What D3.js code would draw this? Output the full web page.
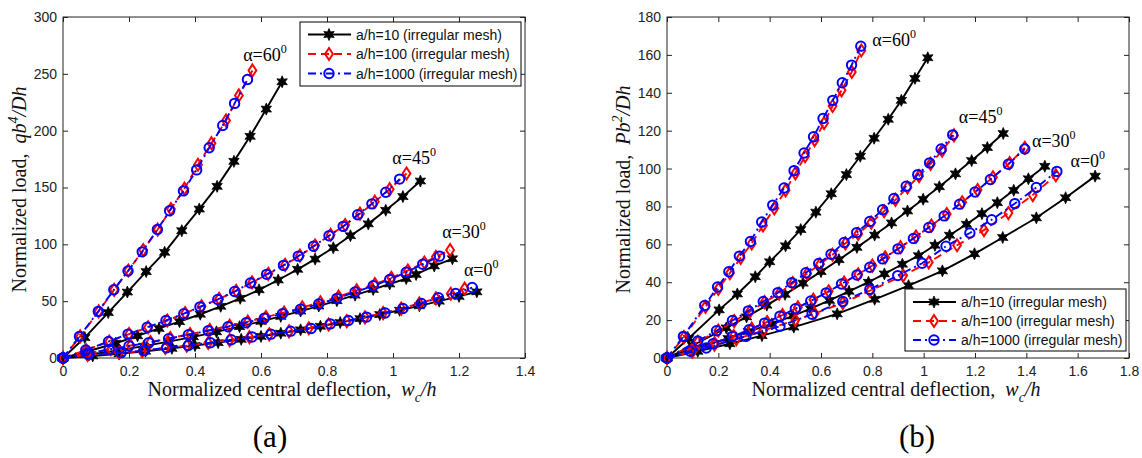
<!DOCTYPE html>
<html><head><meta charset="utf-8">
<script src="https://cdn.jsdelivr.net/npm/d3@7"></script>
<style>body{margin:0;background:#fff}</style>
</head><body><svg id="c" width="1142" height="458"></svg>
<script>
// ---------------- DATA: panel (a) ----------------
const xTicksA = [0, 0.2, 0.4, 0.6, 0.8, 1, 1.2, 1.4];
const yTicksA = [0, 50, 100, 150, 200, 250, 300];
// alpha = 60
const a60_10_x = [0,0.066,0.137,0.195,0.252,0.308,0.36,0.413,0.467,0.518,0.567,0.616,0.664];
const a60_10_y = [0,18,40,58,76,93,112,131,151,173,195,219,243];
const a60_100_x = [0,0.052,0.108,0.155,0.198,0.243,0.287,0.327,0.368,0.409,0.45,0.494,0.533,0.574];
const a60_100_y = [0,19,41,60,77,95,113,131,149,170,189,209,231,253];
const a60_1000_x = [0,0.05,0.107,0.154,0.197,0.24,0.286,0.323,0.365,0.405,0.443,0.484,0.52,0.559];
const a60_1000_y = [0,19,41,60,76.5,93.4,113,129.5,147,165.5,185,204.5,224,245];
// alpha = 45
const a45_10_x = [0,0.07,0.16,0.226,0.291,0.353,0.416,0.478,0.537,0.594,0.652,0.711,0.764,0.819,0.871,0.925,0.978,1.03,1.083];
const a45_10_y = [0,5.5,13,19.5,26,32,38.5,45.5,52.5,60,68.6,78,87,97,107.6,118,130,142,155.7];
const a45_100_x = [0,0.07,0.14,0.2,0.258,0.316,0.37,0.42,0.473,0.525,0.573,0.622,0.673,0.718,0.764,0.811,0.855,0.9,0.945,0.99,1.041];
const a45_100_y = [0,7,14.5,21,27,33,39.5,45.5,52,59,66.5,74,82,90,99,108.5,117,127,137.5,148.5,162.3];
const a45_1000_x = [0,0.069,0.138,0.197,0.255,0.312,0.366,0.415,0.469,0.52,0.568,0.617,0.668,0.713,0.759,0.806,0.849,0.893,0.936,0.978,1.02];
const a45_1000_y = [0,7,14.5,21,27,33,39,45,51.5,58.5,66,73.6,81.5,89.6,98.3,107.6,115.8,126,135.6,145.8,157.4];
// alpha = 30
const a30_10_x = [0,0.08,0.165,0.245,0.32,0.395,0.465,0.535,0.6,0.66,0.72,0.775,0.83,0.885,0.94,0.99,1.04,1.07,1.125,1.18];
const a30_10_y = [0,3,6.6,10.4,14.4,18.6,23,27.6,32.2,36.6,41.3,45.7,50.4,55.3,60.3,65.1,69.9,73.5,81,87.3];
const a30_100_x = [0,0.072,0.145,0.205,0.265,0.325,0.385,0.445,0.505,0.56,0.615,0.67,0.725,0.78,0.835,0.89,0.945,0.995,1.045,1.095,1.13,1.173];
const a30_100_y = [0,4,7.8,11,14,17.5,21,24.7,28.3,32,36,40,44.5,49,54,59.5,65,70.5,77,84,89,95];
const a30_1000_x = [0,0.075,0.14,0.2,0.26,0.32,0.38,0.44,0.5,0.555,0.61,0.665,0.72,0.775,0.83,0.885,0.94,0.99,1.04,1.09,1.141];
const a30_1000_y = [0,4,7.5,10.5,13.5,17,20.5,24,27.5,31,35,39,43,47.5,52.5,58,63.5,69,75.5,82.5,89.6];
// alpha = 0
const a0_10_x = [0,0.09,0.17,0.25,0.33,0.4,0.47,0.54,0.6,0.66,0.72,0.78,0.84,0.9,0.96,1.02,1.08,1.14,1.2,1.254];
const a0_10_y = [0,1.8,3.7,6,8.5,10.9,13.5,16.4,19,21.8,24.8,27.9,31.2,34.6,38.2,42,45.9,50,54.2,58.2];
const a0_100_x = [0,0.075,0.17,0.24,0.31,0.375,0.44,0.505,0.565,0.625,0.685,0.745,0.805,0.86,0.915,0.97,1.025,1.08,1.13,1.175,1.217];
const a0_100_y = [0,2.8,4.6,6,8.8,10.8,13.2,15.8,18.3,20.8,23.4,26.2,29.5,32.5,35.8,39.5,43.5,48,52.5,56.5,61];
const a0_1000_x = [0,0.077,0.176,0.246,0.314,0.38,0.447,0.51,0.573,0.63,0.69,0.752,0.81,0.865,0.92,0.976,1.03,1.086,1.138,1.19,1.24];
const a0_1000_y = [0,3,4.7,6.5,9,11,13.4,16,18.5,21,23.6,26,30,33,36,39.6,43.6,48,53,56.7,62];

// ---------------- DATA: panel (b) ----------------
const xTicksB = [0, 0.2, 0.4, 0.6, 0.8, 1, 1.2, 1.4, 1.6, 1.8];
const yTicksB = [0, 20, 40, 60, 80, 100, 120, 140, 160, 180];
const b60_10_x = [0,0.084,0.203,0.274,0.344,0.4,0.462,0.521,0.58,0.64,0.699,0.753,0.807,0.862,0.913,0.966,1.016];
const b60_10_y = [0,10.3,25.4,33.8,42.9,50.8,59.2,67.8,77,86.7,96.8,106.5,116,126,136,147.6,158.5];
const b60_100_x = [0,0.066,0.15,0.2,0.245,0.287,0.33,0.374,0.418,0.462,0.5,0.538,0.575,0.612,0.645,0.68,0.72,0.757];
const b60_100_y = [0,11,27,36.5,44.8,52.8,60.5,70,79,88.5,97.5,106.5,115,124,133,141.3,151,162.3];
const b60_1000_x = [0,0.064,0.147,0.197,0.241,0.282,0.325,0.369,0.412,0.456,0.495,0.534,0.571,0.608,0.646,0.683,0.719,0.755];
const b60_1000_y = [0,11.4,27.7,37.5,45.5,53.8,61.5,71.8,80.7,89.7,98.9,108.2,116.8,126.4,136,145.3,154.6,164.6];
const b45_10_x = [0,0.1,0.231,0.31,0.389,0.46,0.53,0.6,0.67,0.74,0.809,0.875,0.937,0.998,1.061,1.124,1.187,1.248,1.31];
const b45_10_y = [0,6.6,15.9,21.7,27.9,33.6,39.5,45.6,51.9,58.4,64.9,71.3,77.6,83.8,90.4,97.2,104.2,111.1,118.5];
const b45_100_x = [0,0.12,0.2,0.262,0.323,0.38,0.437,0.49,0.546,0.596,0.645,0.695,0.745,0.796,0.846,0.89,0.937,0.982,1.027,1.072,1.118];
const b45_100_y = [0,8.5,14.5,19.5,24.5,29.5,34,39.5,44.5,49.5,54.5,60.5,65.5,71.5,77.5,83.5,90,96,102.5,109.5,117.5];
const b45_1000_x = [0,0.12,0.193,0.255,0.317,0.375,0.432,0.486,0.541,0.591,0.639,0.69,0.739,0.79,0.84,0.884,0.932,0.977,1.023,1.068,1.113];
const b45_1000_y = [0,9,14.4,19.8,24.9,29.8,34.5,39.7,45,49.9,54.8,61,66.2,72.1,78.3,84.2,90.7,96.8,103,110.3,117.8];
const b30_10_x = [0,0.103,0.238,0.317,0.409,0.491,0.559,0.633,0.709,0.785,0.847,0.917,0.98,1.044,1.101,1.167,1.227,1.287,1.351,1.408,1.472];
const b30_10_y = [0,5,10.3,14,18,22.2,26,30.4,35.2,40,44.4,49.5,54,59.5,64.8,70.6,76.2,82,88.5,94.6,101.2];
const b30_100_x = [0,0.095,0.185,0.26,0.33,0.39,0.45,0.51,0.57,0.63,0.69,0.745,0.8,0.85,0.91,0.97,1.03,1.09,1.15,1.21,1.27,1.335,1.394];
const b30_100_y = [0,3.8,7.9,11.6,15.5,19,22.7,26.7,30.8,35.2,39.8,44.2,48.8,53.1,58.5,64.1,69.9,76,82.2,88.7,95.4,102.9,111];
const b30_1000_x = [0,0.09,0.18,0.255,0.32,0.38,0.44,0.5,0.56,0.62,0.68,0.74,0.79,0.84,0.9,0.96,1.02,1.08,1.14,1.2,1.26,1.33,1.394];
const b30_1000_y = [0,3.6,7.6,11.4,14.9,18.4,22.1,26,30.1,34.4,39.1,43.8,47.9,52.3,57.6,63.1,68.9,75,81.2,87.6,94.2,102.3,110.3];
const b0_10_x = [0,0.12,0.245,0.37,0.494,0.663,0.809,0.941,1.073,1.198,1.308,1.439,1.553,1.668];
const b0_10_y = [0,3.5,7.5,11.8,16.3,23.3,31,38.2,46,55,63.6,74,84.6,96];
const b0_100_x = [0,0.1,0.185,0.27,0.375,0.5,0.575,0.685,0.79,0.92,1.02,1.13,1.235,1.33,1.425,1.515];
const b0_100_y = [0,3.5,7,10,14.5,20,23.5,29,35.5,43.5,50.5,59.5,67.5,76.5,86,96.5];
const b0_1000_x = [0,0.153,0.307,0.44,0.565,0.685,0.79,0.899,0.994,1.087,1.18,1.265,1.355,1.439,1.519];
const b0_1000_y = [0,5.3,11.4,16.8,23.1,29.8,36.2,43.5,50,59,66,73,81.5,90,98.5];

// legend & annotation text
const legendLabels = ["a/h=10 (irregular mesh)", "a/h=100 (irregular mesh)", "a/h=1000 (irregular mesh)"];
const annA = [["60",0.546,261],["45",0.998,171],["30",1.149,106],["0",1.215,72]];
const annB = [["60",0.80,164.6],["45",1.137,123.8],["30",1.422,111.5],["0",1.572,101]];

// ---------------- DRAWING ----------------
const svg = d3.select("#c");
const zip = (xs, ys) => xs.map((x, i) => [x, ys[i]]);

const styles = [
  {color:"#000", dash:null, marker:"star"},
  {color:"#ff0000", dash:"8,5", marker:"diamond"},
  {color:"#0000ff", dash:"8,4,2,4", marker:"circle"}
];

function starPath(r){
  const p=[];
  for(let i=0;i<12;i++){
    const a=-Math.PI/2+i*Math.PI/6, rr=(i%2)?r*0.5:r;
    p.push([ (rr*Math.cos(a)).toFixed(2), (rr*Math.sin(a)).toFixed(2) ]);
  }
  return "M"+p.join("L")+"Z";
}
const STAR = starPath(6);
const DIAM = "M0,-6L3.9,0L0,6L-3.9,0Z";

function drawMarker(g, kind, x, y, color){
  if(kind==="star") g.append("path").attr("d",STAR).attr("transform",`translate(${x},${y})`).attr("fill","#000").attr("stroke","#000").attr("stroke-width",0.8);
  else if(kind==="diamond") g.append("path").attr("d",DIAM).attr("transform",`translate(${x},${y})`).attr("fill","none").attr("stroke",color).attr("stroke-width",2);
  else g.append("circle").attr("cx",x).attr("cy",y).attr("r",4.7).attr("fill","none").attr("stroke",color).attr("stroke-width",2);
}

function panel(opt){
  const {x0,x1,y0,y1,xMax,yMax,xTicks,yTicks,groups,ann,legend,ylab,ysup,tag,tagX} = opt;
  const xs = d3.scaleLinear().domain([0,xMax]).range([x0,x1]);
  const ys = d3.scaleLinear().domain([0,yMax]).range([y1,y0]);
  const g = svg.append("g");
  g.append("rect").attr("x",x0).attr("y",y0).attr("width",x1-x0).attr("height",y1-y0).attr("fill","none").attr("stroke","#222").attr("stroke-width",1);
  const fmt = d => String(d);
  const ax = g.append("g").attr("transform",`translate(0,${y1})`).call(d3.axisBottom(xs).tickValues(xTicks).tickFormat(fmt).tickSizeInner(-5).tickSizeOuter(0).tickPadding(10));
  const axT = g.append("g").attr("transform",`translate(0,${y0})`).call(d3.axisTop(xs).tickValues(xTicks).tickFormat("").tickSizeInner(-5).tickSizeOuter(0));
  const ay = g.append("g").attr("transform",`translate(${x0},0)`).call(d3.axisLeft(ys).tickValues(yTicks).tickFormat(fmt).tickSizeInner(-5).tickSizeOuter(0).tickPadding(10));
  const ayR = g.append("g").attr("transform",`translate(${x1},0)`).call(d3.axisRight(ys).tickValues(yTicks).tickFormat("").tickSizeInner(-5).tickSizeOuter(0));
  [ax,axT,ay,ayR].forEach(a=>{ a.select(".domain").remove(); a.selectAll("line").attr("stroke","#222"); a.selectAll("text").attr("font-family","'Liberation Sans', Arial, sans-serif").attr("font-size",14).attr("fill","#222"); });
  ax.selectAll("text").attr("dy","0.71em").attr("y",8);
  ay.selectAll("text").attr("x",-6);

  const line = d3.line().x(d=>xs(d[0])).y(d=>ys(d[1]));
  for(let s=0;s<3;s++){
    const st = styles[s];
    groups.forEach(gr=>{
      const pts = gr[s];
      g.append("path").attr("d",line(pts)).attr("fill","none").attr("stroke",st.color).attr("stroke-width",1.9).attr("stroke-dasharray",st.dash);
      pts.forEach(p=>drawMarker(g, st.marker, xs(p[0]), ys(p[1]), st.color));
    });
  }
  ann.forEach(([deg,ax_,ay_])=>{
    const t = g.append("text").attr("x",xs(ax_)).attr("y",ys(ay_)).attr("font-family","'Liberation Serif','Times New Roman',serif").attr("font-size",18).attr("fill","#000");
    t.append("tspan").text("α="+deg);
    t.append("tspan").attr("dy",-8).attr("font-size",12).text("0");
  });
  const L = legend;
  const lg = g.append("g");
  lg.append("rect").attr("x",L.x).attr("y",L.y).attr("width",L.w).attr("height",L.h).attr("fill","#fff").attr("stroke","#000").attr("stroke-width",1);
  legendLabels.forEach((lab,i)=>{
    const yy = L.y + L.r0 + i*L.dr;
    const st = styles[i];
    lg.append("line").attr("x1",L.x+8).attr("x2",L.x+51).attr("y1",yy).attr("y2",yy).attr("stroke",st.color).attr("stroke-width",1.9).attr("stroke-dasharray",st.dash);
    drawMarker(lg, st.marker, L.x+29, yy, st.color);
    lg.append("text").attr("x",L.x+56).attr("y",yy).attr("dy","0.36em").attr("font-family","'Liberation Sans', Arial, sans-serif").attr("font-size",14).attr("fill","#111").text(lab);
  });
  const serif = "'Liberation Serif','Times New Roman',serif";
  const xl = g.append("text").attr("x",(x0+x1)/2-2).attr("y",396).attr("text-anchor","middle").attr("font-family",serif).attr("font-size",20).attr("fill","#111").style("white-space","pre");
  xl.append("tspan").text("Normalized central deflection,  ");
  xl.append("tspan").attr("font-style","italic").text("w");
  xl.append("tspan").attr("dy",6).attr("font-size",14).attr("font-style","italic").text("c");
  xl.append("tspan").attr("dy",-6).attr("font-style","italic").text("/h");
  const yl = g.append("text").attr("transform",`translate(${x0-37},${(y0+y1)/2+2}) rotate(-90)`).attr("text-anchor","middle").attr("font-family",serif).attr("font-size",20).attr("fill","#111").style("white-space","pre");
  yl.append("tspan").text("Normalized load,  ");
  yl.append("tspan").attr("font-style","italic").text(ylab);
  yl.append("tspan").attr("dy",-8).attr("font-size",14).attr("font-style","italic").text(ysup);
  yl.append("tspan").attr("dy",8).attr("font-style","italic").text("/Dh");
  g.append("text").attr("x",tagX).attr("y",447).attr("text-anchor","middle").attr("font-family",serif).attr("font-size",31).attr("fill","#000").text(tag);
}

panel({x0:63,x1:525,y0:17,y1:358,xMax:1.4,yMax:300,xTicks:xTicksA,yTicks:yTicksA,
  groups:[
    [zip(a60_10_x,a60_10_y),zip(a60_100_x,a60_100_y),zip(a60_1000_x,a60_1000_y)],
    [zip(a45_10_x,a45_10_y),zip(a45_100_x,a45_100_y),zip(a45_1000_x,a45_1000_y)],
    [zip(a30_10_x,a30_10_y),zip(a30_100_x,a30_100_y),zip(a30_1000_x,a30_1000_y)],
    [zip(a0_10_x,a0_10_y),zip(a0_100_x,a0_100_y),zip(a0_1000_x,a0_1000_y)]
  ],
  ann:annA, legend:{x:300,y:22,w:221,h:64,r0:12.5,dr:19.5}, ylab:"qb", ysup:"4", tag:"(a)", tagX:270});

panel({x0:667,x1:1129,y0:17,y1:358,xMax:1.8,yMax:180,xTicks:xTicksB,yTicks:yTicksB,
  groups:[
    [zip(b60_10_x,b60_10_y),zip(b60_100_x,b60_100_y),zip(b60_1000_x,b60_1000_y)],
    [zip(b45_10_x,b45_10_y),zip(b45_100_x,b45_100_y),zip(b45_1000_x,b45_1000_y)],
    [zip(b30_10_x,b30_10_y),zip(b30_100_x,b30_100_y),zip(b30_1000_x,b30_1000_y)],
    [zip(b0_10_x,b0_10_y),zip(b0_100_x,b0_100_y),zip(b0_1000_x,b0_1000_y)]
  ],
  ann:annB, legend:{x:905,y:289,w:221,h:62,r0:13,dr:19}, ylab:"Pb", ysup:"2", tag:"(b)", tagX:917});
</script></body></html>
